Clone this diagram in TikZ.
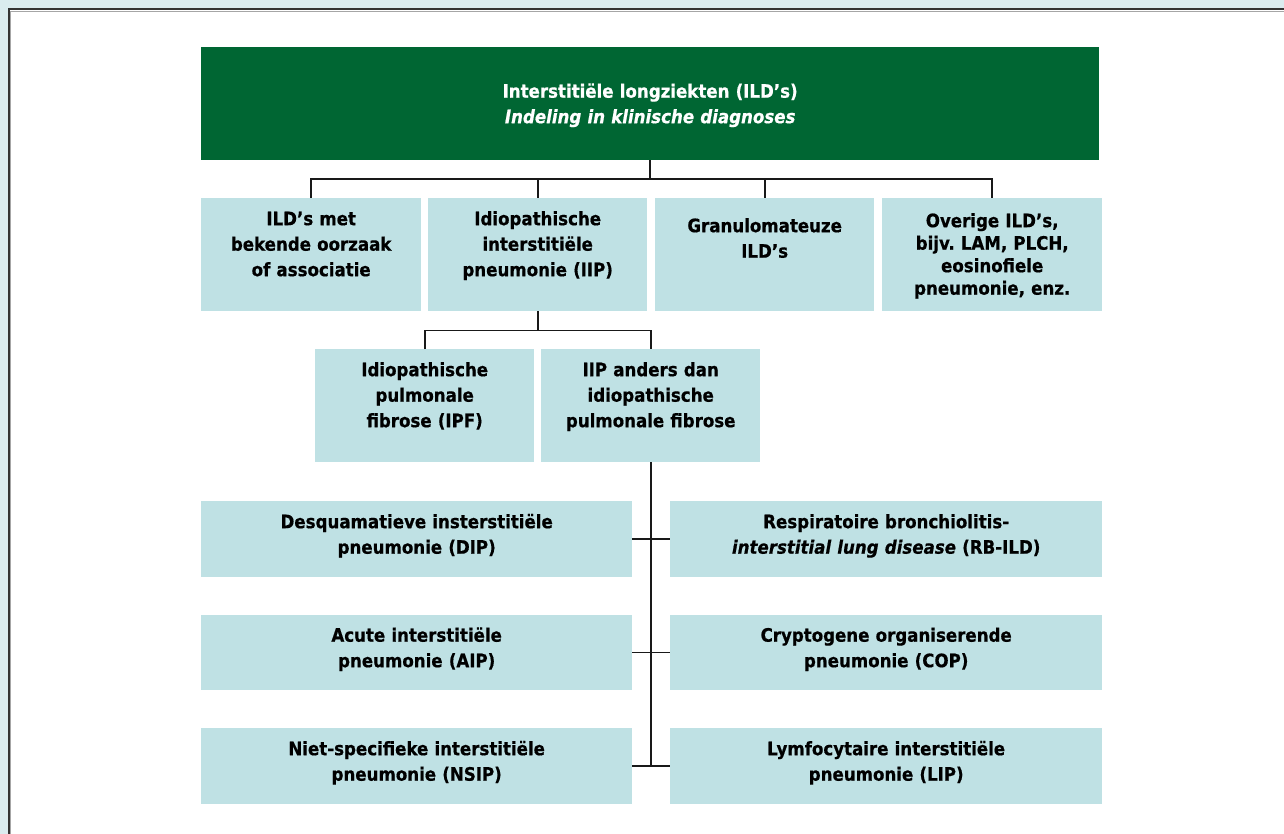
\documentclass[tikz,border=0pt]{standalone}
\usepackage{fontspec}
\setmainfont{DejaVu Sans Condensed}[BoldFeatures={FakeBold=0.6},BoldItalicFeatures={FakeBold=0.6}]
\definecolor{ildgreen}{RGB}{0,102,51}
\definecolor{ildblue}{RGB}{191,225,228}
\definecolor{ildbg}{RGB}{218,236,239}
\tikzset{
  bx/.style={fill=ildblue, anchor=north west, inner sep=0pt, align=center,
    font=\frenchspacing\bfseries\fontsize{18.5}{25.5}\selectfont},
  dims/.style n args={4}{minimum width=#1pt, text width=#1pt, minimum height=#2pt,
    text height=#3pt, text depth=#4pt},
  conn/.style={line width=1.8pt, draw=black!90},
}
\begin{document}
\begin{tikzpicture}[x=1pt,y=-1pt]
\useasboundingbox (0,0) rectangle (1284,834);
% frame
\fill[ildbg] (0,0) rectangle (1284,834);
\fill[white] (8,9) rectangle (1284,834);
\draw[line width=2pt, black!80] (8.5,834) -- (8.5,9.5) -- (1284,9.5);
\draw[line width=0.8pt, black!35] (10,834) -- (10,11) -- (1284,11);

% title
\node[bx, fill=ildgreen, text=white, dims={898}{113}{50.5}{62.5}] (g) at (201,47)
  {Interstitiële longziekten (ILD’s)\\\textit{Indeling in klinische diagnoses}};

% row 2
\node[bx, dims={220}{113}{27}{86}] (b1) at (201,198) {ILD’s met\\bekende oorzaak\\of associatie};
\node[bx, dims={219}{113}{27}{86}] (b2) at (428,198) {Idiopathische\\interstitiële\\pneumonie (IIP)};
\node[bx, dims={219}{113}{34}{79}] (b3) at (655,198) {Granulomateuze\\ILD’s};
\node[bx, dims={220}{113}{29}{84}, font=\frenchspacing\bfseries\fontsize{18.5}{22.5}\selectfont] (b4) at (882,198)
  {Overige ILD’s,\\bijv. LAM, PLCH,\\eosinofiele\\pneumonie, enz.};

% row 3
\node[bx, dims={219}{113}{27}{86}] (ipf) at (315,349) {Idiopathische\\pulmonale\\fibrose (IPF)};
\node[bx, dims={219}{113}{27}{86}] (oth) at (541,349) {IIP anders dan\\idiopathische\\pulmonale fibrose};

% rows 4-6
\node[bx, dims={431}{75.5}{27}{48.5}] (l4) at (201,501) {Desquamatieve insterstitiële\\pneumonie (DIP)};
\node[bx, dims={432}{75.5}{27}{48.5}] (r4) at (670,501) {Respiratoire bronchiolitis-\\\textit{interstitial lung disease} (RB-ILD)};
\node[bx, dims={431}{75.5}{27}{48.5}] (l5) at (201,614.5) {Acute interstitiële\\pneumonie (AIP)};
\node[bx, dims={432}{75.5}{27}{48.5}] (r5) at (670,614.5) {Cryptogene organiserende\\pneumonie (COP)};
\node[bx, dims={431}{75.5}{27}{48.5}] (l6) at (201,728) {Niet-specifieke interstitiële\\pneumonie (NSIP)};
\node[bx, dims={432}{75.5}{27}{48.5}] (r6) at (670,728) {Lymfocytaire interstitiële\\pneumonie (LIP)};

% connectors
\draw[conn] (g.south) -- ++(0,19);
\draw[conn] (b1.north) -- ++(0,-19) -| (b4.north);
\draw[conn] (b2.north) -- ++(0,-19);
\draw[conn] (b3.north) -- ++(0,-19);

\draw[conn] (b2.south) -- ++(0,19.5);
\draw[conn] (ipf.north) -- ++(0,-18.5) -| (oth.north);

\draw[conn] (oth.south) -- (oth.south |- l6.east);
\draw[conn] (l4.east) -- (r4.west);
\draw[conn] (l5.east) -- (r5.west);
\draw[conn] (l6.east) -- (r6.west);
\end{tikzpicture}
\end{document}
